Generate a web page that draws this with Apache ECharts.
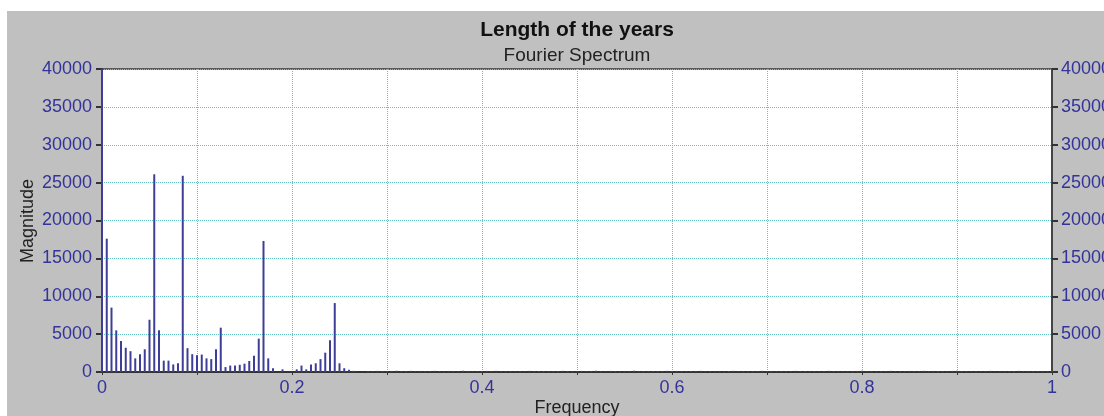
<!DOCTYPE html>
<html>
<head>
<meta charset="utf-8">
<title>Length of the years</title>
<script src="https://cdn.jsdelivr.net/npm/echarts@6/dist/echarts.min.js"></script>
<style>
  html, body { margin: 0; padding: 0; background: #ffffff; }
  #frame { position: absolute; left: 7px; top: 11px; width: 1097px; height: 405px; background: #c0c0c0; }
  #chart { position: absolute; left: 0; top: 0; width: 1104px; height: 416px; }
</style>
</head>
<body>
<div id="frame"></div>
<div id="chart"></div>
<script>
// Fourier spectrum of the length-of-year series.
// Bins are spaced 0.005 apart in frequency (k / 200).
const freqStep = 0.005;

// Magnitudes for bins k = 0 .. 55 (the DC bin runs off the top of the scale)
const lowBand = [
  40000, 17600, 8500, 5500, 4100, 3200, 2750, 1800, 2350, 3000,
  6900, 26100, 5500, 1500, 1500, 1000, 1150, 25900, 3150, 2350,
  2200, 2300, 1800, 1700, 3000, 5850, 650, 850, 850, 950,
  1100, 1450, 2150, 4400, 17300, 1800, 500, 0, 350, 0,
  0, 350, 850, 350, 1000, 1150, 1700, 2550, 4200, 9100,
  1150, 500, 300, 150, 0, 0
];

// Magnitudes for bins k = 56 .. 200 (small residual noise along the baseline)
const tail = [
  140, 120, 150, 130, 110, 140, 160, 120, 130, 150,
  110, 140, 120, 130, 150, 120, 110, 140, 130, 120,
  150, 140, 110, 120, 130, 140, 120, 150, 110, 130,
  140, 120, 130, 110, 150, 120, 140, 130, 120, 110,
  140, 150, 120, 130, 110, 140, 120, 130, 150, 120,
  110, 140, 130, 120, 140, 110, 150, 120, 130, 140,
  120, 110, 130, 150, 120, 140, 130, 110, 120, 140,
  150, 120, 130, 110, 140, 120, 130, 150, 110, 120,
  140, 130, 120, 150, 110, 140, 120, 130, 140, 110,
  150, 120, 130, 140, 120, 110, 130, 150, 120, 140,
  110, 130, 120, 140, 150, 110, 120, 130, 140, 120,
  150, 110, 130, 120, 140, 130, 110, 150, 120, 140,
  120, 130, 110, 140, 150, 120, 130, 110, 140, 120,
  130, 150, 110, 120, 140, 130, 120, 150, 110, 140,
  120, 130, 140, 110, 130
];

const xTickLabels = { 0: '0', 2: '0.2', 4: '0.4', 6: '0.6', 8: '0.8', 10: '1' };

const magnitudes = lowBand.concat(tail);
const points = magnitudes.map((m, k) => [+(k * freqStep).toFixed(3), m]);

const FONT = '"Liberation Sans", Arial, sans-serif';
const labelBlue = '#33339a';
const gridTeal = '#62c4c4';

const chart = echarts.init(document.getElementById('chart'), null, { renderer: 'canvas' });

chart.setOption({
  animation: false,
  backgroundColor: 'transparent',
  textStyle: { fontFamily: FONT },
  grid: {
    left: 102, right: 52, top: 69, bottom: 44,
    outerBoundsMode: 'none',
    containLabel: false,
    show: true, backgroundColor: '#ffffff',
    borderColor: '#5a5a5a', borderWidth: 2
  },
  graphic: [
    { type: 'text', x: 577, y: 30, z: 10,
      style: { text: 'Length of the years', font: 'bold 21px ' + FONT, fill: '#111111',
               align: 'center', verticalAlign: 'middle' } },
    { type: 'text', x: 577, y: 56, z: 10,
      style: { text: 'Fourier Spectrum', font: '19px ' + FONT, fill: '#222222',
               align: 'center', verticalAlign: 'middle' } },
    { type: 'text', x: 28, y: 221, rotation: Math.PI / 2, z: 10,
      style: { text: 'Magnitude', font: '18px ' + FONT, fill: '#222222',
               align: 'center', verticalAlign: 'middle' } },
    { type: 'text', x: 577, y: 408, z: 10,
      style: { text: 'Frequency', font: '18px ' + FONT, fill: '#222222',
               align: 'center', verticalAlign: 'middle' } }
  ],
  xAxis: {
    type: 'value', min: 0, max: 1, interval: 0.1,
    axisLine: { show: true, onZero: false, lineStyle: { color: '#333333', width: 2 } },
    axisTick: { show: true, length: 3, lineStyle: { color: '#333333', width: 1 } },
    axisLabel: {
      color: labelBlue, fontSize: 18, margin: 7, fontFamily: FONT,
      formatter: v => {
        const t = Math.round(v * 10);
        return xTickLabels[t] !== undefined ? xTickLabels[t] : '';
      }
    },
    splitLine: { show: true, lineStyle: { color: gridTeal, type: 'dotted', width: 1 } }
  },
  yAxis: [
    {
      type: 'value', position: 'left', min: 0, max: 40000, interval: 5000,
      axisLine: { show: true, lineStyle: { color: '#333366', width: 2 } },
      axisTick: { show: true, length: 6, lineStyle: { color: '#333333', width: 2 } },
      axisLabel: { color: labelBlue, fontSize: 18, margin: 10, fontFamily: FONT,
                   formatter: v => String(v) },
      splitLine: { show: true, lineStyle: { color: gridTeal, type: 'dotted', width: 1 } }
    },
    {
      type: 'value', position: 'right', min: 0, max: 40000, interval: 5000,
      axisLine: { show: true, lineStyle: { color: '#444444', width: 2 } },
      axisTick: { show: true, length: 6, lineStyle: { color: '#333333', width: 2 } },
      axisLabel: { color: labelBlue, fontSize: 18, margin: 9, fontFamily: FONT,
                   formatter: v => String(v) },
      splitLine: { show: false }
    }
  ],
  series: [{
    type: 'bar',
    yAxisIndex: 0,
    data: points,
    barWidth: 2,
    clip: true,
    itemStyle: { color: '#3e3e98' }
  }]
});
</script>
</body>
</html>
